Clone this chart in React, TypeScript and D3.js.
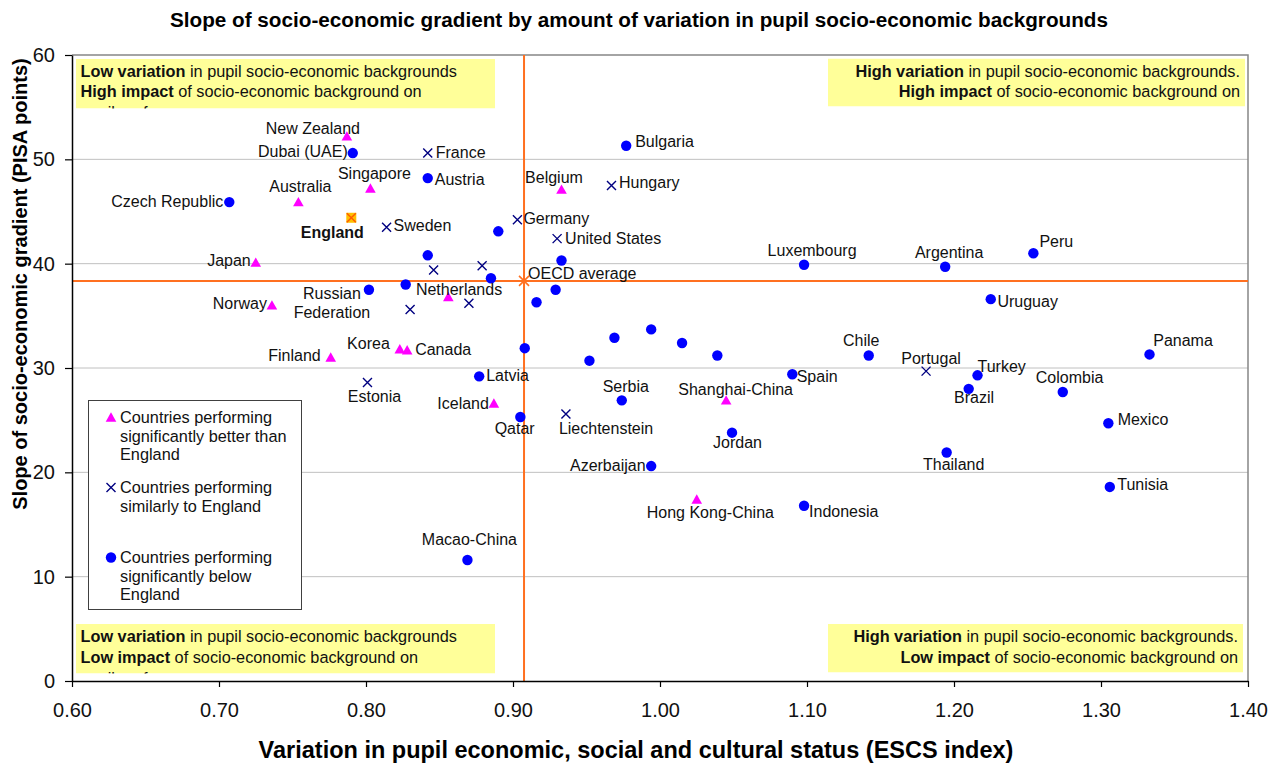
import * as d3 from "d3";
import { useEffect, useRef } from "react";

// countries performing significantly better than England
const betterCountries = ["New Zealand", "Singapore", "Australia", "Japan", "Norway", "Finland", "Korea", "Canada", "Netherlands", "Iceland", "Belgium", "Shanghai-China", "Hong Kong-China"];
const betterEscs = [0.787, 0.803, 0.754, 0.725, 0.736, 0.776, 0.823, 0.828, 0.856, 0.887, 0.933, 1.045, 1.025];
const betterSlope = [52.2, 47.2, 45.9, 40.1, 36.0, 31.0, 31.8, 31.7, 36.8, 26.6, 47.1, 26.9, 17.4];

// countries performing similarly to England
const similarCountries = ["France", "Sweden", "Germany", "Hungary", "United States", "", "", "", "", "Estonia", "Liechtenstein", "Portugal"];
const similarEscs = [0.842, 0.814, 0.903, 0.967, 0.930, 0.846, 0.879, 0.830, 0.870, 0.801, 0.936, 1.181];
const similarSlope = [50.6, 43.5, 44.2, 47.5, 42.4, 39.4, 39.8, 35.6, 36.2, 28.6, 25.6, 29.7];

// countries performing significantly below England
const belowCountries = ["Dubai (UAE)", "Czech Republic", "Austria", "", "", "", "Russian\nFederation", "", "", "", "", "", "", "", "", "", "", "Latvia", "Qatar", "Serbia", "Jordan", "Azerbaijan", "Indonesia", "Spain", "Macao-China", "Bulgaria", "Luxembourg", "Argentina", "Peru", "Uruguay", "Chile", "Turkey", "Brazil", "Colombia", "Panama", "Mexico", "Thailand", "Tunisia"];
const belowEscs = [0.791, 0.707, 0.842, 0.890, 0.842, 0.885, 0.802, 0.827, 0.933, 0.929, 0.916, 0.908, 0.952, 0.969, 0.994, 1.015, 1.039, 0.877, 0.905, 0.974, 1.049, 0.994, 1.098, 1.090, 0.869, 0.977, 1.098, 1.194, 1.254, 1.225, 1.142, 1.216, 1.210, 1.274, 1.333, 1.305, 1.195, 1.306];
const belowSlope = [50.6, 45.9, 48.2, 43.1, 40.8, 38.6, 37.5, 38.0, 40.3, 37.5, 36.3, 31.9, 30.7, 32.9, 33.7, 32.4, 31.2, 29.2, 25.3, 26.9, 23.8, 20.6, 16.8, 29.4, 11.6, 51.3, 39.9, 39.7, 41.0, 36.6, 31.2, 29.3, 28.0, 27.7, 31.3, 24.7, 21.9, 18.6];

const englandEscs = 0.790;
const englandSlope = 44.4;
const oecdEscs = 0.9075;
const oecdSlope = 38.35;

const xTicks = [0.6, 0.7, 0.8, 0.9, 1.0, 1.1, 1.2, 1.3, 1.4];
const yTicks = [0, 10, 20, 30, 40, 50, 60];

// label placement relative to marker: dx, dy, anchor
const labelPos: Record<string, [number, number, string]> = {
    "New Zealand": [-34, -2, "middle"],
    "Dubai (UAE)": [-5, 3.5, "end"],
    "France": [8, 5, "start"],
    "Singapore": [4, -10, "middle"],
    "Austria": [7, 7, "start"],
    "Australia": [2, -10, "middle"],
    "Czech Republic": [-6, 5, "end"],
    "England": [-19, 20, "middle"],
    "Sweden": [7, 4, "start"],
    "Japan": [-5, 3.5, "end"],
    "Russian\nFederation": [-37, 9, "middle"],
    "Netherlands": [10.7, -2, "middle"],
    "Norway": [-5, 3.5, "end"],
    "Bulgaria": [9, 1.5, "start"],
    "Belgium": [-7.5, -7, "middle"],
    "Hungary": [7.5, 3, "start"],
    "Germany": [6, 4, "start"],
    "United States": [8, 5.7, "start"],
    "OECD average": [4, -2, "start"],
    "Finland": [-10, 3.5, "end"],
    "Korea": [-10, 0, "end"],
    "Canada": [8, 5, "start"],
    "Estonia": [7, 19, "middle"],
    "Latvia": [7, 5, "start"],
    "Iceland": [-5, 6, "end"],
    "Macao-China": [2, -15, "middle"],
    "Qatar": [-5.7, 16.7, "middle"],
    "Liechtenstein": [-7, 20, "start"],
    "Serbia": [4, -8, "middle"],
    "Shanghai-China": [9.5, -5, "middle"],
    "Jordan": [5.5, 15, "middle"],
    "Azerbaijan": [-5.6, 5.3, "end"],
    "Hong Kong-China": [13.6, 18.3, "middle"],
    "Spain": [4.4, 7.7, "start"],
    "Luxembourg": [8, -8.3, "middle"],
    "Argentina": [4, -8.7, "middle"],
    "Peru": [6, -6, "start"],
    "Uruguay": [6.7, 7.7, "start"],
    "Chile": [-7.5, -9, "middle"],
    "Portugal": [5, -7.4, "middle"],
    "Turkey": [0, -3.3, "start"],
    "Brazil": [5.4, 14.6, "middle"],
    "Colombia": [6.8, -9.3, "middle"],
    "Panama": [3.7, -8.3, "start"],
    "Mexico": [9.3, 2, "start"],
    "Thailand": [7, 17, "middle"],
    "Tunisia": [7.4, 3.4, "start"],
    "Indonesia": [5, 11.6, "start"],
};

const FONT = "'Liberation Sans', Arial, sans-serif";

function App() {
    const ref = useRef<SVGSVGElement>(null);

    useEffect(() => {
        document.body.style.margin = "0";
        const svg = d3.select(ref.current);
        svg.selectAll("*").remove();
        svg.style("font-family", FONT);

        const x = d3.scaleLinear().domain([0.6, 1.4]).range([72, 1248]);
        const y = d3.scaleLinear().domain([0, 60]).range([681, 55]);

        // gridlines
        svg.append("g")
            .selectAll("line")
            .data(yTicks.filter(d => d > 0 && d < 60))
            .join("line")
            .attr("x1", x(0.6)).attr("x2", x(1.4))
            .attr("y1", d => y(d)).attr("y2", d => y(d))
            .attr("stroke", "#c0c0c0").attr("stroke-width", 1);

        // top / right border
        svg.append("path")
            .attr("d", `M${x(0.6)},${y(60)}H${x(1.4)}V${y(0)}`)
            .attr("fill", "none").attr("stroke", "#868686").attr("stroke-width", 1.5);

        // quadrant notes
        const defs = svg.append("defs");
        const boxes = [
            { x0: 76, y0: 59, x1: 495, y1: 108.5, align: "left", lines: [["Low variation", " in pupil socio-economic backgrounds"], ["High impact", " of socio-economic background on"], ["", "pupil performance"]], base: 76.5 },
            { x0: 828, y0: 58.5, x1: 1245, y1: 106.5, align: "right", lines: [["High variation", " in pupil socio-economic backgrounds."], ["High impact", " of socio-economic background on"]], base: 76.5 },
            { x0: 76, y0: 624, x1: 495, y1: 673.5, align: "left", lines: [["Low variation", " in pupil socio-economic backgrounds"], ["Low impact", " of socio-economic background on"], ["", "pupil performance"]], base: 642 },
            { x0: 828, y0: 624, x1: 1243, y1: 672.5, align: "right", lines: [["High variation", " in pupil socio-economic backgrounds."], ["Low impact", " of socio-economic background on"]], base: 642 },
        ];
        boxes.forEach((b, i) => {
            defs.append("clipPath").attr("id", `qclip${i}`)
                .append("rect").attr("x", b.x0).attr("y", b.y0)
                .attr("width", b.x1 - b.x0).attr("height", b.y1 - b.y0);
            const g = svg.append("g").attr("clip-path", `url(#qclip${i})`);
            g.append("rect").attr("x", b.x0).attr("y", b.y0)
                .attr("width", b.x1 - b.x0).attr("height", b.y1 - b.y0)
                .attr("fill", "#ffff99");
            b.lines.forEach((ln, j) => {
                const t = g.append("text")
                    .attr("x", b.align === "left" ? b.x0 + 4.5 : b.x1 - 5)
                    .attr("y", b.base + j * 20.8)
                    .attr("text-anchor", b.align === "left" ? "start" : "end")
                    .attr("font-size", 16.3).attr("fill", "#111");
                t.append("tspan").attr("font-weight", "bold").text(ln[0]);
                t.append("tspan").text(ln[1]);
            });
        });

        // OECD average lines
        svg.append("line")
            .attr("x1", x(oecdEscs)).attr("x2", x(oecdEscs))
            .attr("y1", y(60)).attr("y2", y(0))
            .attr("stroke", "#ff7020").attr("stroke-width", 2);
        svg.append("line")
            .attr("x1", x(0.6)).attr("x2", x(1.4))
            .attr("y1", y(oecdSlope)).attr("y2", y(oecdSlope))
            .attr("stroke", "#ff7020").attr("stroke-width", 2);

        // axes
        const xAxis = svg.append("g")
            .attr("transform", `translate(0,${y(0)})`)
            .call(d3.axisBottom(x).tickValues(xTicks).tickFormat(d3.format(".2f")).tickSize(6).tickPadding(16).tickSizeOuter(0));
        const yAxis = svg.append("g")
            .attr("transform", `translate(${x(0.6)},0)`)
            .call(d3.axisLeft(y).tickValues(yTicks).tickSize(7).tickPadding(10).tickSizeOuter(0));
        [xAxis, yAxis].forEach(a => {
            a.select(".domain").attr("stroke", "#000").attr("stroke-width", 1.5);
            a.selectAll(".tick line").attr("stroke", "#000").attr("stroke-width", 1.2);
            a.selectAll(".tick text").attr("font-size", 20).attr("font-family", FONT).attr("fill", "#111");
        });

        // markers
        const triPath = "M0,-5.2L5.3,4.2L-5.3,4.2Z";
        const xPath = "M-4.5,-4.5L4.5,4.5M-4.5,4.5L4.5,-4.5";
        const marks = svg.append("g");

        betterCountries.forEach((c, i) => {
            marks.append("path").attr("d", triPath)
                .attr("transform", `translate(${x(betterEscs[i])},${y(betterSlope[i])})`)
                .attr("fill", "#ff00ff");
        });
        similarCountries.forEach((c, i) => {
            marks.append("path").attr("d", xPath)
                .attr("transform", `translate(${x(similarEscs[i])},${y(similarSlope[i])})`)
                .attr("stroke", "#000080").attr("stroke-width", 1.4).attr("fill", "none");
        });
        belowCountries.forEach((c, i) => {
            marks.append("circle")
                .attr("cx", x(belowEscs[i])).attr("cy", y(belowSlope[i])).attr("r", 5.2)
                .attr("fill", "#0000ff");
        });
        // England
        marks.append("rect")
            .attr("x", x(englandEscs) - 5).attr("y", y(englandSlope) - 5)
            .attr("width", 10).attr("height", 10).attr("fill", "#ffc000");
        marks.append("path").attr("d", xPath)
            .attr("transform", `translate(${x(englandEscs)},${y(englandSlope)})`)
            .attr("stroke", "#ff5a00").attr("stroke-width", 1.4).attr("fill", "none");
        // OECD average
        marks.append("path").attr("d", "M-5,-5L5,5M-5,5L5,-5")
            .attr("transform", `translate(${x(oecdEscs)},${y(oecdSlope)})`)
            .attr("stroke", "#ff7020").attr("stroke-width", 1.6).attr("fill", "none");

        // labels
        const labels = [
            ...betterCountries.map((c, i) => ({ name: c, ex: betterEscs[i], sl: betterSlope[i] })),
            ...similarCountries.map((c, i) => ({ name: c, ex: similarEscs[i], sl: similarSlope[i] })),
            ...belowCountries.map((c, i) => ({ name: c, ex: belowEscs[i], sl: belowSlope[i] })),
            { name: "England", ex: englandEscs, sl: englandSlope },
            { name: "OECD average", ex: oecdEscs, sl: oecdSlope },
        ].filter(d => d.name !== "");

        const lg = svg.append("g").attr("font-size", 16).attr("fill", "#111");
        labels.forEach(d => {
            const p = labelPos[d.name] || [6, 5, "start"];
            const t = lg.append("text")
                .attr("x", x(d.ex) + p[0])
                .attr("y", y(d.sl) + p[1])
                .attr("text-anchor", p[2])
                .attr("font-weight", d.name === "England" ? "bold" : "normal");
            d.name.split("\n").forEach((s, k) => {
                t.append("tspan").attr("x", x(d.ex) + p[0]).attr("dy", k === 0 ? 0 : 19).text(s);
            });
        });

        // legend
        const leg = svg.append("g");
        leg.append("rect").attr("x", 88.5).attr("y", 400.5).attr("width", 213).attr("height", 209)
            .attr("fill", "#fff").attr("stroke", "#404040").attr("stroke-width", 1);
        const legItems = [
            { kind: "tri", lines: ["Countries performing", "significantly better than", "England"], y0: 423 },
            { kind: "x", lines: ["Countries performing", "similarly to England"], y0: 493 },
            { kind: "dot", lines: ["Countries performing", "significantly below", "England"], y0: 563 },
        ];
        legItems.forEach(it => {
            const my = it.y0 - 5.5;
            if (it.kind === "tri") leg.append("path").attr("d", triPath).attr("transform", `translate(111,${my})`).attr("fill", "#ff00ff");
            if (it.kind === "x") leg.append("path").attr("d", xPath).attr("transform", `translate(111,${my})`).attr("stroke", "#000080").attr("stroke-width", 1.4);
            if (it.kind === "dot") leg.append("circle").attr("cx", 111).attr("cy", my).attr("r", 5.2).attr("fill", "#0000ff");
            it.lines.forEach((s, k) => {
                leg.append("text").attr("x", 120).attr("y", it.y0 + k * 18.5)
                    .attr("font-size", 16.3).attr("fill", "#111").text(s);
            });
        });

        // titles
        svg.append("text")
            .attr("x", 639).attr("y", 27)
            .attr("text-anchor", "middle").attr("font-size", 20.7).attr("font-weight", "bold")
            .text("Slope of socio-economic gradient by amount of variation in pupil socio-economic backgrounds");
        svg.append("text")
            .attr("x", 636).attr("y", 758)
            .attr("text-anchor", "middle").attr("font-size", 23.5).attr("font-weight", "bold")
            .text("Variation in pupil economic, social and cultural status (ESCS index)");
        svg.append("text")
            .attr("transform", "translate(27,284) rotate(-90)")
            .attr("text-anchor", "middle").attr("font-size", 20).attr("font-weight", "bold")
            .text("Slope of socio-economic gradient (PISA points)");
    }, []);

    return <svg ref={ref} width={1277} height={767} style={{ display: "block", background: "#fff" }} />;
}

export default App;
